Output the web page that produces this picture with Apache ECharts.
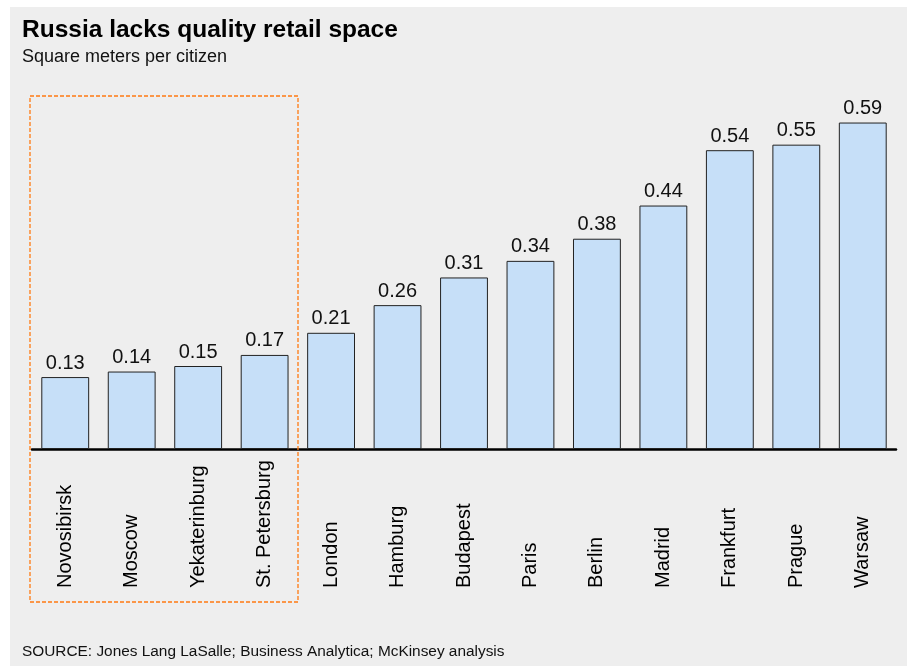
<!DOCTYPE html>
<html>
<head>
<meta charset="utf-8">
<script src="https://cdn.jsdelivr.net/npm/echarts@6/dist/echarts.min.js"></script>
<style>
  html, body { margin: 0; padding: 0; background: #ffffff; }
  #chart { width: 907px; height: 666px; }
</style>
</head>
<body>
<div id="chart"></div>
<script>
// Retail space per citizen, square meters
const cities = ['Novosibirsk', 'Moscow', 'Yekaterinburg', 'St. Petersburg', 'London', 'Hamburg',
  'Budapest', 'Paris', 'Berlin', 'Madrid', 'Frankfurt', 'Prague', 'Warsaw'];
const sqmPerCitizen = [0.13, 0.14, 0.15, 0.17, 0.21, 0.26, 0.31, 0.34, 0.38, 0.44, 0.54, 0.55, 0.59];

const FONT = '"Liberation Sans", Arial, sans-serif';

const chart = echarts.init(document.getElementById('chart'), null, { renderer: 'canvas' });

chart.setOption({
  animation: false,
  backgroundColor: '#ffffff',
  textStyle: { fontFamily: FONT },
  title: [
    {
      text: 'Russia lacks quality retail space',
      left: 22, top: 18, padding: 0,
      textStyle: { fontFamily: FONT, fontSize: 24.5, fontWeight: 'bold', color: '#000' }
    },
    {
      text: 'Square meters per citizen',
      left: 22, top: 48, padding: 0,
      textStyle: { fontFamily: FONT, fontSize: 18, fontWeight: 'normal', color: '#111' }
    },
    {
      text: 'SOURCE: Jones Lang LaSalle; Business Analytica; McKinsey analysis',
      left: 22, top: 644, padding: 0,
      textStyle: { fontFamily: FONT, fontSize: 15.4, fontWeight: 'normal', color: '#111' }
    }
  ],
  graphic: [
    {
      type: 'rect', z: -10, silent: true,
      shape: { x: 10, y: 7, width: 897, height: 659 },
      style: { fill: '#eeeeee' }
    },
    {
      // frame around the Russian cities
      type: 'rect', z: 10, silent: true,
      shape: { x: 30, y: 96, width: 268, height: 506 },
      style: { fill: 'none', stroke: '#ff7a12', lineWidth: 1.3, lineDash: [4, 2] }
    }
  ],
  grid: { left: 32, right: 11, top: 117, bottom: 217, containLabel: false },
  xAxis: {
    type: 'category',
    data: cities,
    axisLine: { show: true, lineStyle: { color: '#000', width: 2.5 } },
    axisTick: { show: false },
    axisLabel: {
      rotate: 90,
      align: 'left',
      verticalAlign: 'middle',
      margin: 139,
      interval: 0,
      fontFamily: FONT,
      fontSize: 20,
      color: '#000'
    }
  },
  yAxis: {
    type: 'value',
    min: 0, max: 0.6,
    show: false,
    splitLine: { show: false }
  },
  series: [{
    type: 'bar',
    data: sqmPerCitizen,
    barCategoryGap: '28%',
    itemStyle: { color: '#c6dff8', borderColor: '#222', borderWidth: 1 },
    label: {
      show: true,
      position: 'top',
      distance: 4,
      fontFamily: FONT,
      fontSize: 20,
      color: '#111',
      formatter: p => p.value.toFixed(2)
    }
  }]
});
</script>
</body>
</html>
